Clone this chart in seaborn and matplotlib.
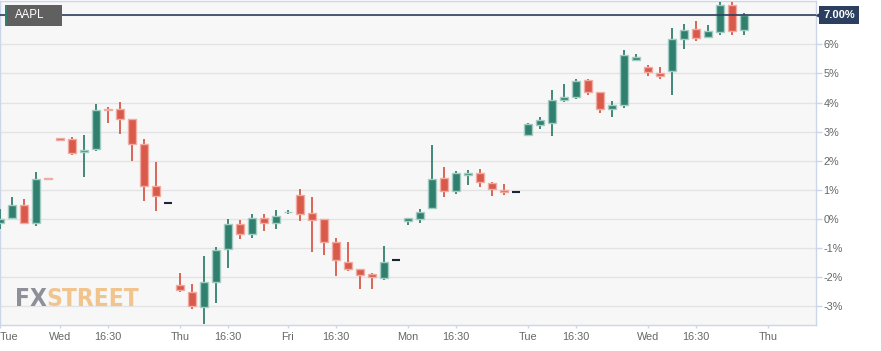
import numpy as np
import pandas as pd
import matplotlib
matplotlib.use("Agg")
import matplotlib.pyplot as plt
import matplotlib.transforms as mtransforms
from matplotlib import font_manager as fm
import seaborn as sns
from matplotlib.patches import Rectangle
from matplotlib.ticker import FixedLocator, FuncFormatter

# hourly AAPL candles, % change
opens = [-0.16, 0.02, 0.48, -0.13, 1.42, 2.77, 2.74, 2.29, 2.41, 3.79,
         3.77, 3.44, 2.58, 1.13, 0.55, -2.27, -2.50, -3.03, -2.16, -1.04,
         -0.17, -0.51, 0.02, -0.14, 0.22, 0.82, 0.20, 0.00, -0.79, -1.48,
         -1.74, -1.90, -2.02, -1.43, -0.06, 0.01, 0.37, 1.40, 0.95, 1.52,
         1.57, 1.24, 0.99, 0.92, 2.89, 3.24, 3.29, 4.08, 4.20, 4.77,
         4.37, 3.78, 3.91, 5.46, 5.23, 5.02, 5.10, 6.18, 6.52, 6.24,
         6.44, 7.35, 6.48]
highs = [0.35, 0.76, 0.69, 1.60, 1.42, 2.77, 2.81, 2.89, 3.94, 3.85,
         4.01, 3.44, 2.74, 1.95, 0.55, -1.87, -2.24, -1.27, -0.97, -0.01,
         -0.03, 0.16, 0.16, 0.31, 0.30, 1.03, 0.75, 0.00, -0.65, -0.79,
         -1.74, -1.87, -0.93, -1.43, 0.03, 0.34, 2.54, 1.78, 1.64, 1.68,
         1.71, 1.28, 1.19, 0.92, 3.29, 3.51, 4.43, 4.64, 4.81, 4.81,
         4.37, 4.04, 5.81, 5.67, 5.29, 5.21, 6.56, 6.70, 6.80, 6.67,
         7.47, 7.47, 7.08]
lows = [-0.34, -0.02, -0.15, -0.23, 1.37, 2.72, 2.18, 1.43, 2.34, 3.29,
        2.91, 1.99, 0.63, 0.26, 0.55, -2.50, -3.09, -3.62, -2.88, -1.69,
        -0.70, -0.66, -0.41, -0.35, 0.16, -0.09, -1.14, -1.26, -1.95, -1.81,
        -2.42, -2.42, -2.10, -1.43, -0.22, -0.13, 0.34, 0.75, 0.85, 1.16,
        1.09, 0.77, 0.82, 0.92, 2.85, 3.08, 2.86, 4.02, 4.13, 4.25,
        3.65, 3.49, 3.80, 5.46, 4.91, 4.82, 4.27, 5.83, 6.12, 6.24,
        6.33, 6.31, 6.31]
closes = [0.00, 0.48, -0.13, 1.36, 1.37, 2.72, 2.26, 2.38, 3.74, 3.75,
          3.44, 2.59, 1.13, 0.77, 0.55, -2.45, -3.01, -2.16, -1.07, -0.17,
          -0.52, 0.04, -0.16, 0.10, 0.25, 0.15, -0.03, -0.78, -1.40, -1.74,
          -1.93, -1.99, -1.48, -1.43, 0.03, 0.24, 1.36, 0.97, 1.56, 1.59,
          1.25, 1.01, 0.92, 0.92, 3.25, 3.39, 4.09, 4.19, 4.75, 4.35,
          3.79, 3.91, 5.63, 5.56, 5.04, 4.92, 6.18, 6.51, 6.23, 6.45,
          7.35, 6.47, 7.00]

tick_pos = [0, 5, 9, 15, 19, 24, 28, 34, 38, 44, 48, 54, 58, 64]
tick_labels = ["Tue", "Wed", "16:30", "Thu", "16:30", "Fri", "16:30",
               "Mon", "16:30", "Tue", "16:30", "Wed", "16:30", "Thu"]
day_pos = [5, 15, 24, 34, 44, 54, 64]
y_ticks = list(range(-3, 8))
last_price = 7.00

df = pd.DataFrame({"open": opens, "high": highs, "low": lows, "close": closes})
df["idx"] = np.arange(len(df))

GREEN, RED = "#31806f", "#d9594a"
GREEN_EDGE, RED_EDGE = "#a3cdc3", "#f0aca3"
NAVY = "#2c3f5e"
AXIS = "#ccd6eb"

sns.set_theme(style="whitegrid")
plt.rcParams["font.family"] = ["Liberation Sans", "DejaVu Sans"]

fig = plt.figure(figsize=(8.81, 3.51), dpi=100)
fig.patch.set_facecolor("white")
ax = fig.add_axes([0, 26 / 351, 816 / 881, 324 / 351])
ax.set_facecolor("#f7f7f7")

up = df[df.close > df.open]
down = df[df.close < df.open]
flat = df[df.close == df.open]

# wicks
ax.vlines(up.idx, up.low, up.high, color=GREEN, lw=1.3, zorder=3)
ax.vlines(down.idx, down.low, down.high, color=RED, lw=1.3, zorder=3)

# bodies
ax.bar(up.idx, up.close - up.open, bottom=up.open, width=0.72,
       color=GREEN, edgecolor=GREEN_EDGE, linewidth=1, zorder=4)
ax.bar(down.idx, down.close - down.open, bottom=down.open, width=0.72,
       color=RED, edgecolor=RED_EDGE, linewidth=1, zorder=4)
ax.hlines(flat.close, flat.idx - 0.36, flat.idx + 0.36, color="#1c2536", lw=1.5, zorder=4)

ax.set_xlim(0, 68)
ax.set_ylim(-3.65, 7.49)

# grid
ax.yaxis.set_major_locator(FixedLocator(y_ticks))
ax.yaxis.set_major_formatter(FuncFormatter(lambda v, p: "" if v >= 7 else f"{v:.0f}%"))
ax.yaxis.tick_right()
ax.set_xticks(tick_pos)
ax.set_xticklabels(tick_labels)
ax.set_xticks(day_pos, minor=True)
ax.grid(False)
ax.grid(True, axis="y", which="major", color="#e3e3e3", lw=1)
ax.grid(True, axis="x", which="minor", color="#e3e3e3", lw=1)
ax.tick_params(axis="x", which="minor", length=0)
ax.tick_params(axis="y", which="major", length=4.3, width=1, color=AXIS, pad=1,
               labelsize=7.8, labelcolor="#666666", direction="out", right=True, left=False)
ax.tick_params(axis="x", which="major", length=2.2, width=1, color=AXIS, pad=3,
               labelsize=7.8, labelcolor="#666666", direction="out", bottom=True)
ax.get_xticklabels()[0].set_horizontalalignment("left")
for s in ax.spines.values():
    s.set_color(AXIS)
    s.set_linewidth(1)
ax.set_xlabel("")
ax.set_ylabel("")

# last price line and label
ax.axhline(last_price, color=NAVY, lw=1.2, zorder=5)
trans = mtransforms.blended_transform_factory(ax.transAxes, ax.transData)
ax.text(1.0 + 7 / 816, last_price, f"{last_price:.2f}%", transform=trans,
        ha="left", va="center", color="white", fontweight="bold", fontsize=8,
        bbox=dict(boxstyle="square,pad=0.35", fc=NAVY, ec="none"), clip_on=False, zorder=6)
ax.plot([1.0 + 2.5 / 816], [last_price], marker="<", ms=5, color=NAVY,
        transform=trans, clip_on=False, zorder=6)

# symbol label
ax.add_patch(Rectangle((5 / 816, (325 - 26) / 324), 57 / 816, 21 / 324,
                       transform=ax.transAxes, fc="#606060", ec="none", zorder=6))
ax.add_patch(Rectangle((5 / 816, (325 - 26) / 324), 2.2 / 816, 21 / 324,
                       transform=ax.transAxes, fc=GREEN, ec="none", zorder=7))
ax.text(15 / 816, (325 - 15.5) / 324, "AAPL", transform=ax.transAxes, color="white",
        fontsize=8.3, ha="left", va="center", zorder=8)

# watermark: prefer a condensed bold face if one is installed
cands = [f for f in fm.fontManager.ttflist
         if f.weight in ("bold", 700, "heavy", 800)
         and ("Narrow" in f.name or "Condensed" in f.name
              or f.stretch in ("condensed", "semi-condensed", "extra-condensed"))]
if cands:
    wm_font = fm.FontProperties(fname=cands[0].fname)
else:
    wm_font = fm.FontProperties(family="Liberation Sans", weight="bold")
wm_font.set_size(20)
wm = ax.text(15 / 816, (325 - 305.7) / 324, "FX", transform=ax.transAxes,
             color="#8e9099", fontproperties=wm_font, ha="left", va="baseline", zorder=1)
wm2 = ax.annotate("STREET", xy=(1, 0), xycoords=wm, color="#f1c48d",
                  fontproperties=wm_font, ha="left", va="bottom", zorder=1)
renderer = fig.canvas.get_renderer()
width = wm.get_window_extent(renderer).width + wm2.get_window_extent(renderer).width
size = min(20 * 124 / width, 27)
wm_font.set_size(size)
wm.set_fontproperties(wm_font)
wm2.set_fontproperties(wm_font)

fig.savefig("out.png", dpi=100)
